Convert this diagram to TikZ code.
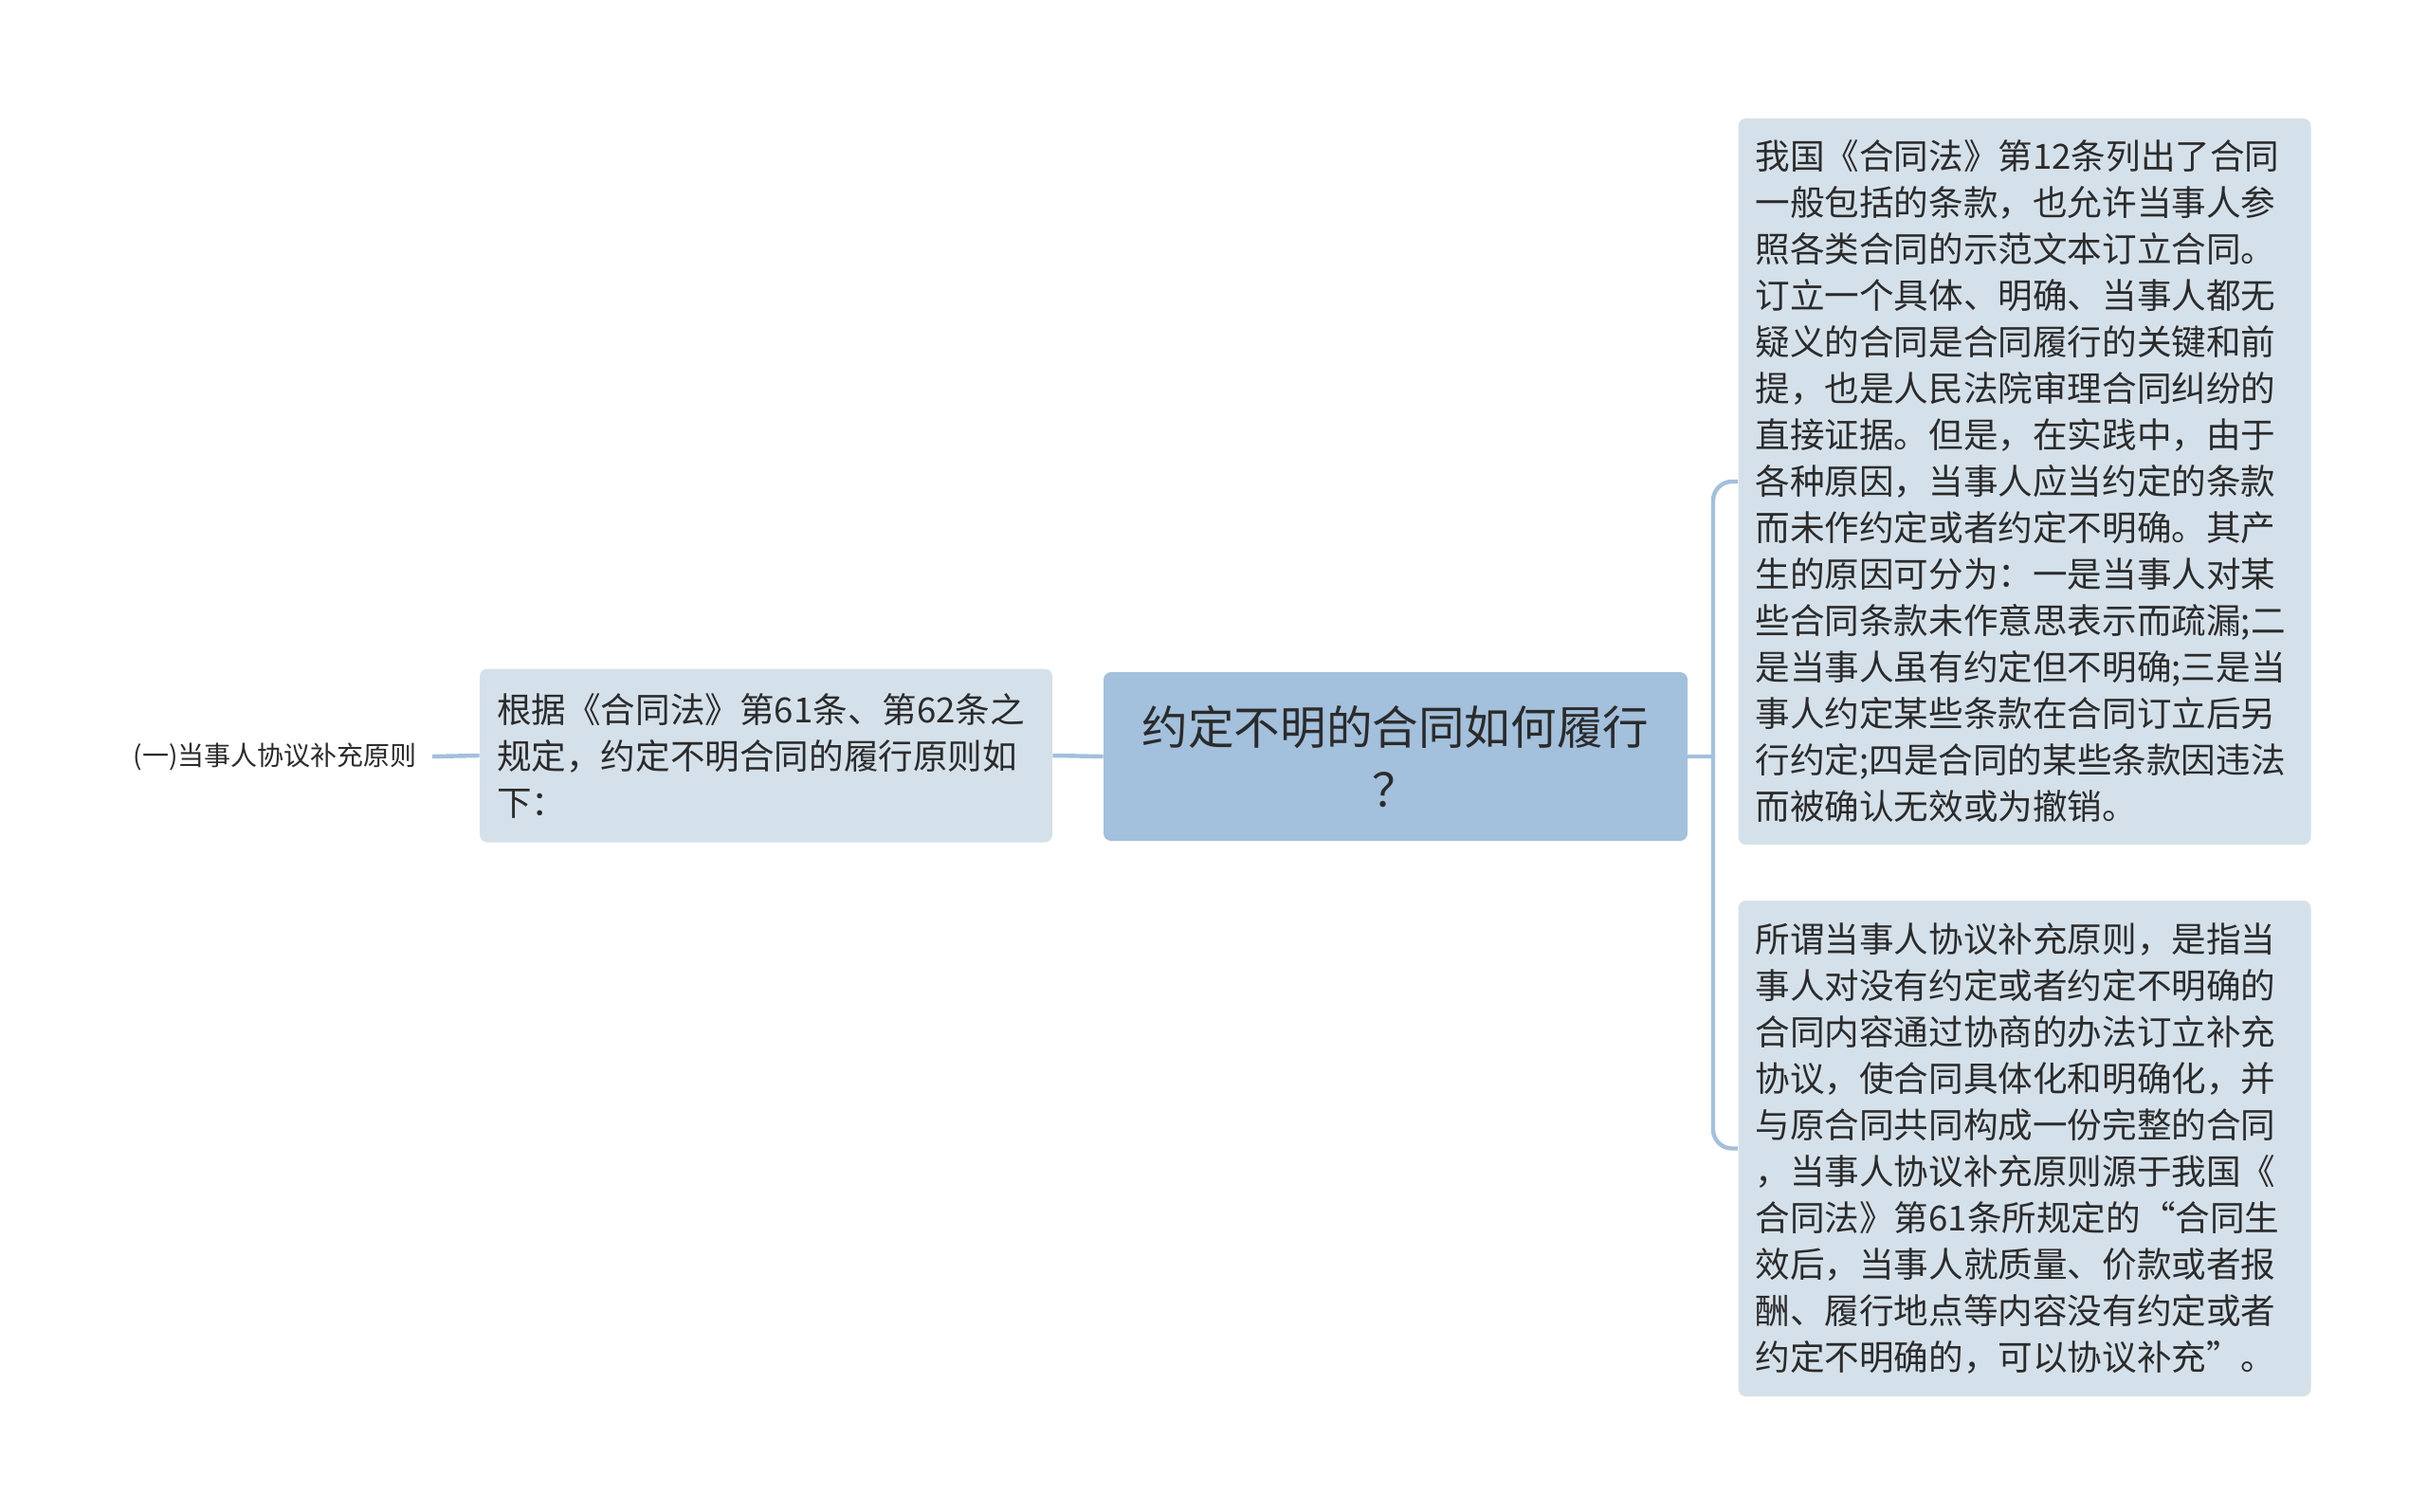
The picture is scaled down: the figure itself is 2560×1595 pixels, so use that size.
\documentclass[tikz,border=0pt]{standalone}
\usepackage{fontspec}
\setmainfont{Noto Sans CJK SC}
\usetikzlibrary{positioning}

\definecolor{rootblue}{HTML}{A3C0DC}
\definecolor{leafblue}{HTML}{D5E1EA}
\definecolor{inkgray}{HTML}{2B2B2B}

\begin{document}
\begin{tikzpicture}[x=.5pt,y=-.5pt,
    root/.style={fill=rootblue, rounded corners=4pt, text=inkgray, align=center,
      minimum width=308pt, minimum height=89pt, inner sep=0pt,
      font=\fontsize{24.3}{32.7}\selectfont},
    leaf/.style={fill=leafblue, rounded corners=4pt, text=inkgray, align=left,
      text width=284pt, inner xsep=9pt, inner ysep=0pt,
      font=\fontsize{18.3}{24.5}\selectfont},
    link/.style={draw=rootblue, line width=2.2pt}]
  \useasboundingbox (0,0) rectangle (2560,1595);

  % centre and its two sides
  \node[root] (root) at (1472,798) {约定不明的合同如何履行\\？};
  \node[leaf, minimum height=91.5pt] (basis) at (808,797)
    {根据《合同法》第61条、第62条之\\规定，约定不明合同的履行原则如\\下：};
  \node[text=inkgray, font=\fontsize{14}{17}\selectfont, inner sep=8pt] (rule) at (290,798)
    {(一)当事人协议补充原则};

  % right branch
  \node[leaf, minimum height=383pt, yshift=-1.5pt] (cause) at (2135.5,505)
    {我国《合同法》第12条列出了合同\\
     一般包括的条款，也允许当事人参\\
     照各类合同的示范文本订立合同。\\
     订立一个具体、明确、当事人都无\\
     疑义的合同是合同履行的关键和前\\
     提，也是人民法院审理合同纠纷的\\
     直接证据。但是，在实践中，由于\\
     各种原因，当事人应当约定的条款\\
     而未作约定或者约定不明确。其产\\
     生的原因可分为：一是当事人对某\\
     些合同条款未作意思表示而疏漏;二\\
     是当事人虽有约定但不明确;三是当\\
     事人约定某些条款在合同订立后另\\
     行约定;四是合同的某些条款因违法\\
     而被确认无效或为撤销。};
  \node[leaf, minimum height=261.5pt] (supplement) at (2135.5,1211.5)
    {所谓当事人协议补充原则，是指当\\
     事人对没有约定或者约定不明确的\\
     合同内容通过协商的办法订立补充\\
     协议，使合同具体化和明确化，并\\
     与原合同共同构成一份完整的合同\\
     ，当事人协议补充原则源于我国《\\
     合同法》第61条所规定的“合同生\\
     效后，当事人就质量、价款或者报\\
     酬、履行地点等内容没有约定或者\\
     约定不明确的，可以协议补充”。};

  \coordinate (fork) at (1807,798);

  \draw[link] (root.east) -- (fork);
  \draw[link, rounded corners=10pt] (fork) |- (cause.west);
  \draw[link, rounded corners=10pt] (fork) |- (supplement.west);
  \draw[link] (root.west) -- (basis.east);
  \draw[link] (basis.west) -- (rule.east);
\end{tikzpicture}
\end{document}
